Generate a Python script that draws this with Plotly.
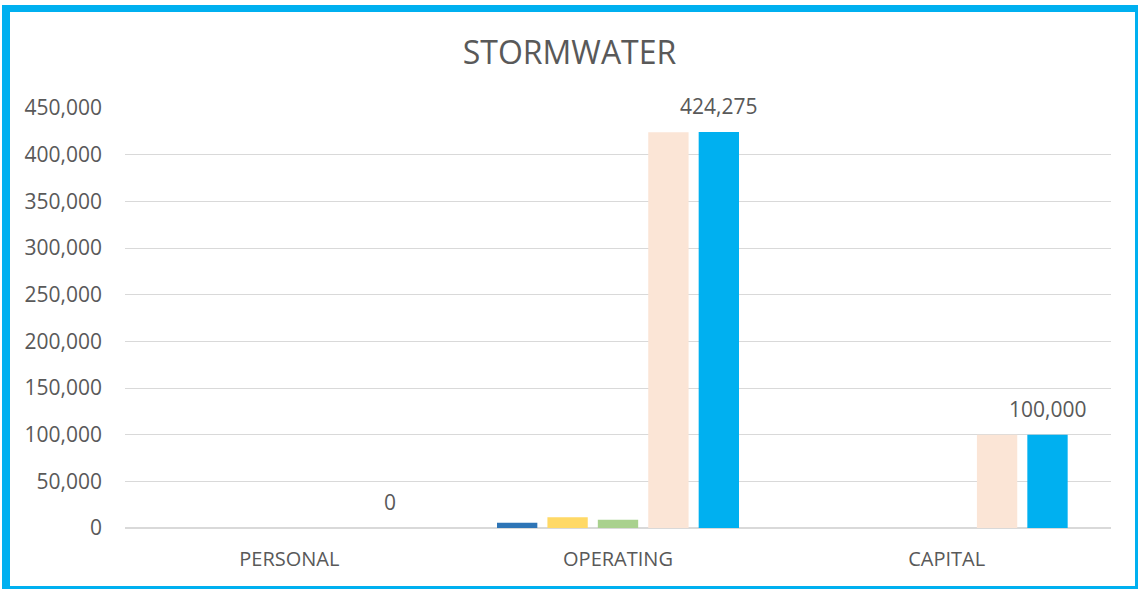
import plotly.graph_objects as go

categories = ["PERSONAL", "OPERATING", "CAPITAL"]
series_names = ["Series 1", "Series 2", "Series 3", "Series 4", "Series 5"]
series_values = [
    [0, 5700, 0],
    [0, 11400, 0],
    [0, 8900, 0],
    [0, 424000, 100000],
    [0, 424275, 100000],
]
series_colors = ["#2E75B6", "#FFD966", "#A9D18E", "#FBE5D6", "#00B0F0"]
labelled_series = 4
y_ticks = list(range(0, 450001, 50000))

W, H = 1139, 589
ML, MR, MT, MB = 125, 28, 108, 61
PW, PH = W - ML - MR, H - MT - MB
BARGAP = 0.233
TEXT = "#595959"
FONT = "Open Sans, Lato, DejaVu Sans, sans-serif"

fig = go.Figure()
for name, vals, col in zip(series_names, series_values, series_colors):
    fig.add_trace(go.Bar(x=categories, y=vals, name=name, marker_color=col,
                         marker_line_width=0, hoverinfo="x+y+name"))

# data labels for the last series
slot = PW / len(categories) * (1 - BARGAP) / len(series_values)
offset = (labelled_series - (len(series_values) - 1) / 2) * slot
for c, v in zip(categories, series_values[labelled_series]):
    fig.add_annotation(x=c, y=v, text=f"{v:,}", showarrow=False, xshift=offset,
                       yanchor="bottom", yshift=10, font=dict(size=21, color=TEXT, family=FONT))

def px(x):
    return (x - ML) / PW

def py(y):
    return (H - MB - y) / PH

# frame
for (x0, y0, x1, y1) in [(2, 5, 10, 589), (2, 5, 1138, 12), (1135, 5, 1138, 589), (2, 586, 1138, 589)]:
    fig.add_shape(type="rect", xref="paper", yref="paper", x0=px(x0), x1=px(x1), y0=py(y1), y1=py(y0),
                  fillcolor="#00B0F0", line_width=0, layer="above")

fig.update_layout(
    width=W, height=H,
    margin=dict(l=ML, r=MR, t=MT, b=MB),
    paper_bgcolor="white", plot_bgcolor="white",
    barmode="group", bargap=BARGAP, bargroupgap=0.2,
    showlegend=False,
    font=dict(family=FONT, color=TEXT),
    title=dict(text="STORMWATER", x=0.5, xanchor="center", y=1 - 53 / H, yanchor="middle",
               font=dict(size=32, color=TEXT, family=FONT)),
    xaxis=dict(showgrid=False, showline=False, ticks="", tickfont=dict(size=20, color=TEXT),
               ticklabelstandoff=17),
    yaxis=dict(range=[0, 450000], tickvals=y_ticks, tickformat=",", showgrid=True,
               gridcolor="#D9D9D9", gridwidth=1.3, zeroline=True, zerolinecolor="#D9D9D9",
               zerolinewidth=2, ticks="", tickfont=dict(size=21, color=TEXT), ticklabelstandoff=22),
)
fig.write_html("out.html", config={"displayModeBar": False},
               post_script="document.body.style.margin='0';document.body.style.overflow='hidden';")
